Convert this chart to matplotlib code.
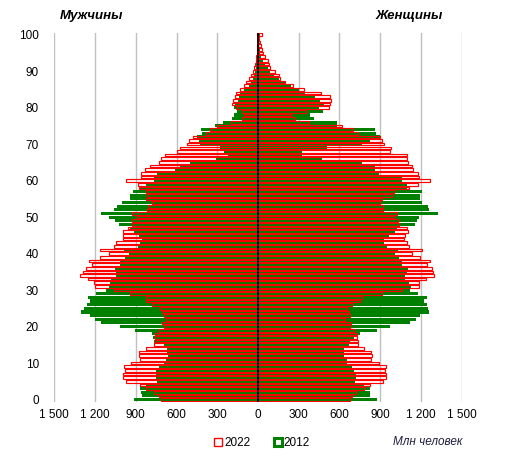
import numpy as np
import matplotlib.pyplot as plt
from matplotlib.patches import Patch

plt.rcParams['font.family'] = ['Liberation Sans', 'DejaVu Sans']

# Ages 0..100, thousands of people
ages = np.arange(0, 101)

men_2022 = [714, 731, 768, 822, 866, 969, 993, 993, 981, 988,
            935, 871, 878, 878, 822, 768, 755, 760, 755, 731,
            694, 706, 675, 694, 706, 724, 780, 822, 822, 944,
            1057, 1197, 1209, 1253, 1312, 1290, 1263, 1221, 1246, 1160,
            1099, 1160, 1057, 1042, 996, 996, 996, 959, 927, 927,
            890, 927, 817, 809, 780, 822, 817, 822, 873, 883,
            969, 861, 858, 829, 792, 731, 714, 682, 596, 571,
            522, 510, 481, 383, 351, 302, 200, 118, 105, 120,
            160, 190, 184, 167, 160, 129, 100, 85, 68, 50,
            40, 32, 25, 18, 13, 9, 6, 4, 3, 2, 4]

men_2012 = [915, 854, 861, 866, 822, 743, 748, 748, 748, 731,
            694, 680, 662, 670, 670, 694, 768, 773, 780, 903,
            1013, 1155, 1202, 1239, 1300, 1278, 1258, 1234, 1250, 1195,
            1120, 1100, 1091, 1082, 1042, 1042, 1050, 1013, 1013, 981,
            952, 988, 883, 866, 854, 878, 915, 944, 1020, 1050,
            1099, 1153, 1057, 1038, 1001, 944, 939, 920, 866, 822,
            768, 763, 743, 608, 571, 498, 307, 221, 250, 277,
            424, 437, 449, 412, 417, 314, 258, 191, 174, 155,
            179, 170, 150, 142, 134, 105, 68, 51, 39, 32,
            24, 17, 12, 8, 5, 3, 2, 2, 1, 1, 3]

women_2022 = [675, 692, 724, 778, 822, 920, 942, 942, 932, 942,
              888, 831, 839, 834, 780, 736, 733, 728, 728, 704,
              680, 684, 643, 675, 667, 655, 692, 753, 765, 912,
              1060, 1182, 1182, 1239, 1293, 1288, 1280, 1244, 1263, 1190,
              1133, 1207, 1109, 1096, 1077, 1084, 1101, 1096, 1035, 1028,
              998, 1023, 920, 920, 900, 912, 986, 998, 1109, 1175,
              1268, 1182, 1177, 1141, 1133, 1101, 1096, 1096, 974, 979,
              925, 912, 900, 733, 697, 618, 373, 270, 243, 353,
              520, 527, 540, 532, 463, 336, 260, 200, 165, 152,
              122, 90, 83, 71, 50, 35, 30, 25, 15, 10, 30]

women_2012 = [876, 827, 827, 822, 778, 716, 721, 721, 704, 692,
              655, 655, 630, 630, 630, 667, 675, 704, 753, 876,
              969, 1121, 1165, 1194, 1256, 1251, 1244, 1219, 1244, 1177,
              1121, 1130, 1109, 1084, 1084, 1096, 1104, 1060, 1060, 1035,
              1011, 1030, 949, 925, 925, 962, 1011, 1023, 1158, 1170,
              1182, 1322, 1256, 1248, 1207, 1194, 1194, 1207, 1096, 1096,
              1060, 1060, 888, 863, 858, 765, 473, 326, 326, 508,
              765, 827, 900, 871, 863, 581, 581, 410, 385, 478,
              446, 483, 459, 422, 343, 300, 245, 196, 152, 120,
              90, 70, 50, 35, 25, 18, 12, 8, 6, 4, 17]

x_ticks = [-1500, -1200, -900, -600, -300, 0, 300, 600, 900, 1200, 1500]
x_labels = ['1 500', '1 200', '900', '600', '300', '0', '300', '600', '900', '1 200', '1 500']
y_ticks = list(range(0, 101, 10))

fig = plt.figure(figsize=(5.14, 4.61), dpi=100)
ax = fig.add_axes([0.1056, 0.1286, 0.7927, 0.7992])

# 2012 - solid green, 2022 - red outline on top
ax.barh(ages, -np.array(men_2012), height=0.85, color='green', linewidth=0, zorder=2)
ax.barh(ages, women_2012, height=0.85, color='green', linewidth=0, zorder=2)
ax.barh(ages, -np.array(men_2022), height=0.72, facecolor='none', edgecolor='red', linewidth=0.85, zorder=3)
ax.barh(ages, women_2022, height=0.72, facecolor='none', edgecolor='red', linewidth=0.85, zorder=3)

ax.axvline(0, color='black', lw=1.3, zorder=4)

ax.set_xlim(-1500, 1500)
ax.set_ylim(-0.6, 100.4)
ax.set_xticks(x_ticks)
ax.set_xticklabels(x_labels)
ax.set_yticks(y_ticks)
ax.tick_params(axis='both', length=0, labelsize=8.5)
ax.tick_params(axis='y', pad=11)
ax.tick_params(axis='x', pad=5)
ax.grid(axis='x', color='#c0c0c0', lw=1, zorder=0)
ax.set_axisbelow(True)
for s in ax.spines.values():
    s.set_visible(False)

fig.text(0.117, 0.965, 'Мужчины', fontsize=9.5, fontweight='bold', fontstyle='italic', va='center')
fig.text(0.731, 0.965, 'Женщины', fontsize=9.5, fontweight='bold', fontstyle='italic', va='center')
fig.text(0.765, 0.041, 'Млн человек', fontsize=8.5, fontstyle='italic', color='#1f1f3f', va='center')

handles = [Patch(facecolor='white', edgecolor='red', lw=1.0),
           Patch(facecolor='white', edgecolor='green', lw=2.2)]
fig.legend(handles, ['2022', '2012'], loc='center', bbox_to_anchor=(0.51, 0.039),
           ncol=2, frameon=False, fontsize=8.5, handlelength=0.7, handleheight=0.7,
           handletextpad=0.15, columnspacing=2.0)

plt.savefig('out.png', dpi=100)
